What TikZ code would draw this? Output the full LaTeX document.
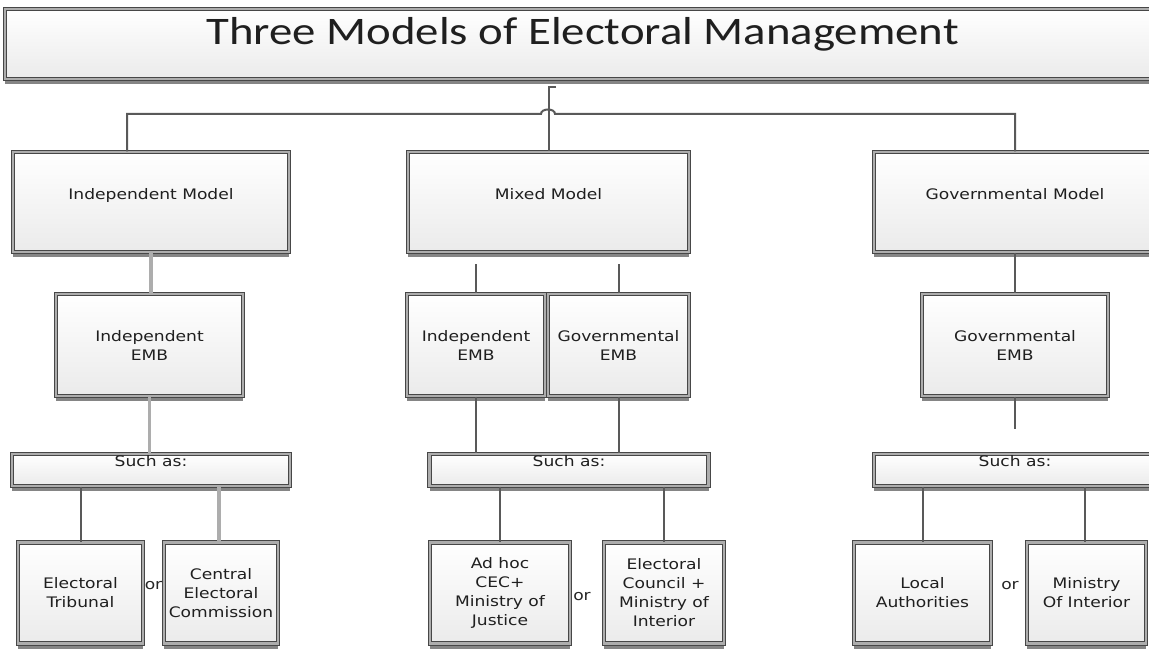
\documentclass[tikz,border=0pt]{standalone}
\usepackage[usenames,dvipsnames,svgnames,table]{xcolor}
\usepackage{fontspec}
\usepackage{tikz}
\usetikzlibrary{shadows}

\newfontfamily\titlefont[FakeStretch=1.2]{Carlito}
\newfontfamily\boxfont[FakeStretch=1.18]{DejaVu Sans}

\tikzset{
  modelbox/.style={draw=black!72, double=black!32, double distance=2.6pt, line width=1.1pt,
    top color=white, bottom color=black!8, text=black!88, align=center, inner sep=1pt,
    font=\boxfont\fontsize{14.5}{19}\selectfont,
    drop shadow={shadow xshift=0pt, shadow yshift=-5pt, fill=black!48, opacity=1}},
  toptext/.style={text height=10.5pt, text depth=#1},
  link/.style={draw=black!65, line width=2pt},
  linklight/.style={draw=black!32, line width=3.5pt},
  ortext/.style={text=black!85, inner sep=0pt, font=\boxfont\fontsize{14.5}{19}\selectfont}
}

\begin{document}
\begin{tikzpicture}[x=1pt,y=-1pt]
        \useasboundingbox[fill=white] (0,0) rectangle (1149,650);

        \node[modelbox, minimum width=1155pt, minimum height=70pt, text height=25pt, text depth=24pt,
              font=\titlefont\fontsize{39}{44}\selectfont] (title) at (582.5,44) {Three Models of Electoral Management};

        \node[modelbox, toptext=15.5pt, minimum width=276pt, minimum height=100pt] (indep) at (151,202) {Independent Model};
        \node[modelbox, toptext=15.5pt, minimum width=281pt, minimum height=100pt] (mixed) at (548.5,202) {Mixed Model};
        \node[modelbox, toptext=15.5pt, minimum width=282pt, minimum height=100pt] (govt) at (1015,202) {Governmental Model};

        \node[modelbox, minimum width=187pt, minimum height=102pt] (indepemb) at (149.5,345) {Independent\\EMB};
        \node[modelbox, minimum width=138pt, minimum height=102pt] (mixindemb) at (476,345) {Independent\\EMB};
        \node[modelbox, minimum width=141pt, minimum height=102pt] (mixgovemb) at (618.5,345) {Governmental\\EMB};
        \node[modelbox, minimum width=186pt, minimum height=102pt] (govemb) at (1015,345) {Governmental\\EMB};

        \node[modelbox, toptext=18.5pt, minimum width=278pt, minimum height=32pt] (indepsuch) at (151,470) {Such as:};
        \node[modelbox, toptext=18.5pt, minimum width=279pt, minimum height=32pt] (mixsuch) at (569,470) {Such as:};
        \node[modelbox, toptext=18.5pt, minimum width=282pt, minimum height=32pt] (govsuch) at (1015,470) {Such as:};

        \node[modelbox, minimum width=125pt, minimum height=101pt] (tribunal) at (80.5,593) {Electoral\\Tribunal};
        \node[modelbox, minimum width=114pt, minimum height=101pt] (cec) at (221,593) {Central\\Electoral\\Commission};
        \node[modelbox, minimum width=140pt, minimum height=101pt] (adhoc) at (500,593) {Ad hoc\\CEC+\\Ministry of\\Justice};
        \node[modelbox, minimum width=120pt, minimum height=101pt] (council) at (664,593) {Electoral\\Council +\\Ministry of\\Interior};
        \node[modelbox, minimum width=137pt, minimum height=101pt] (local) at (922.5,593) {Local\\Authorities};
        \node[modelbox, minimum width=119pt, minimum height=101pt] (interior) at (1086.5,593) {Ministry\\Of Interior};

        \node[ortext] (orA) at (153.5,586) {or};
        \node[ortext] (orB) at (582,597) {or};
        \node[ortext] (orC) at (1010,586) {or};

        % top level
        \coordinate (stub) at (556,87);
        \coordinate (hopL) at (541,114);
        \coordinate (hopR) at (555,114);
        \draw[link] (stub) -| (mixed.north);
        \draw[link] ([xshift=-24pt]indep.north) |- (hopL) .. controls (541,108) and (555,108) .. (hopR) -| (govt.north);

        % models to EMBs
        \draw[linklight] (indep.south) -- (indep.south |- indepemb.north);
        \draw[link] (mixindemb.north) -- ++(0,-29);
        \draw[link] (mixgovemb.north) -- ++(0,-29);
        \draw[link] (govt.south) -- (govemb.north);

        % EMBs to examples
        \draw[linklight] (indepemb.south) -- (indepemb.south |- indepsuch.north);
        \draw[link] (mixindemb.south) -- (mixindemb.south |- mixsuch.north);
        \draw[link] (mixgovemb.south) -- (mixgovemb.south |- mixsuch.north);
        \draw[link] (govemb.south) -- ++(0,32);

        \draw[link] (tribunal.north |- indepsuch.south) -- (tribunal.north);
        \draw[linklight] ([xshift=-2pt]cec.north |- indepsuch.south) -- ([xshift=-2pt]cec.north);
        \draw[link] (adhoc.north |- mixsuch.south) -- (adhoc.north);
        \draw[link] (council.north |- mixsuch.south) -- (council.north);
        \draw[link] (local.north |- govsuch.south) -- (local.north);
        \draw[link] ([xshift=-1.5pt]interior.north |- govsuch.south) -- ([xshift=-1.5pt]interior.north);
    \end{tikzpicture}
\end{document}
